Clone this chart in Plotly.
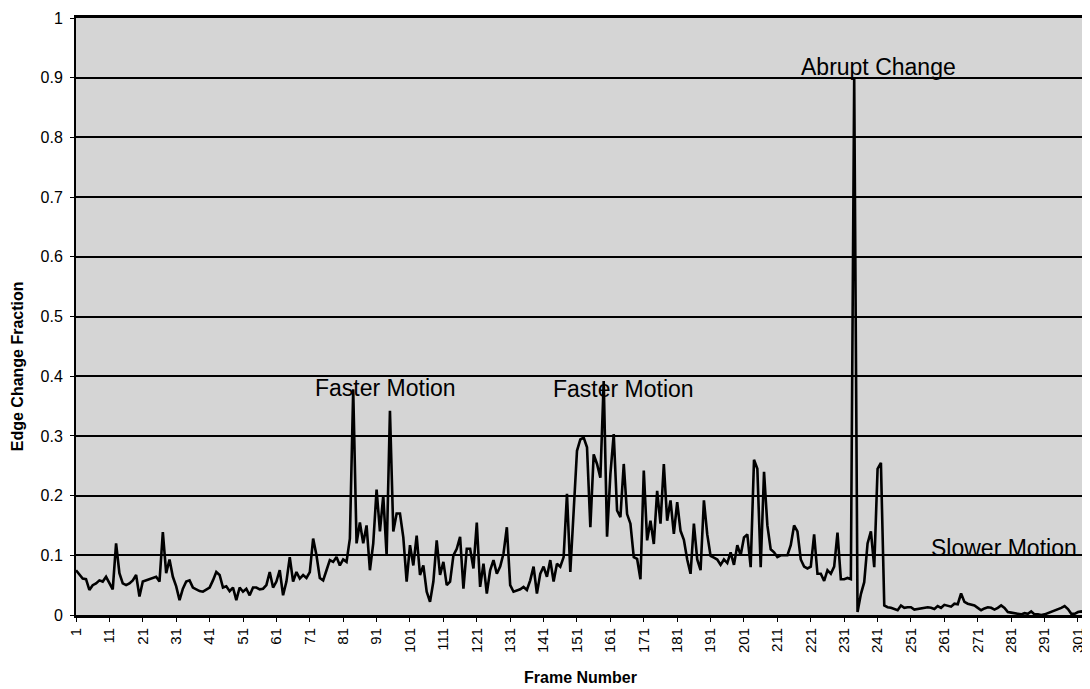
import plotly.graph_objects as go

# Edge change fraction per frame (frames 1..304)
frames_1_60 = [0.075, 0.068, 0.061, 0.06, 0.042, 0.05, 0.053, 0.058, 0.056, 0.064,
               0.053, 0.043, 0.12, 0.07, 0.053, 0.05, 0.053, 0.058, 0.067, 0.031,
               0.056, 0.058, 0.06, 0.061, 0.064, 0.056, 0.139, 0.07, 0.093, 0.064,
               0.048, 0.025, 0.044, 0.056, 0.058, 0.046, 0.043, 0.04, 0.039, 0.042,
               0.046, 0.058, 0.072, 0.067, 0.046, 0.048, 0.04, 0.046, 0.025, 0.046,
               0.039, 0.044, 0.033, 0.046, 0.046, 0.043, 0.044, 0.05, 0.072, 0.046]
frames_61_120 = [0.056, 0.075, 0.033, 0.056, 0.097, 0.056, 0.072, 0.061, 0.067, 0.062,
                 0.072, 0.128, 0.1, 0.062, 0.058, 0.075, 0.092, 0.089, 0.097, 0.083,
                 0.093, 0.089, 0.128, 0.378, 0.12, 0.155, 0.12, 0.15, 0.075, 0.12,
                 0.21, 0.14, 0.2, 0.1, 0.342, 0.14, 0.17, 0.17, 0.13, 0.056,
                 0.117, 0.083, 0.133, 0.067, 0.083, 0.039, 0.022, 0.056, 0.125, 0.067,
                 0.089, 0.05, 0.056, 0.1, 0.111, 0.131, 0.044, 0.111, 0.111, 0.078]
frames_121_180 = [0.155, 0.047, 0.086, 0.036, 0.075, 0.092, 0.069, 0.081, 0.103, 0.147,
                  0.05, 0.039, 0.041, 0.043, 0.047, 0.042, 0.058, 0.081, 0.036, 0.069,
                  0.081, 0.064, 0.092, 0.056, 0.086, 0.081, 0.097, 0.203, 0.072, 0.181,
                  0.275, 0.294, 0.297, 0.281, 0.147, 0.269, 0.253, 0.23, 0.392, 0.131,
                  0.236, 0.303, 0.175, 0.164, 0.253, 0.169, 0.153, 0.097, 0.094, 0.06,
                  0.242, 0.125, 0.158, 0.119, 0.208, 0.153, 0.253, 0.158, 0.192, 0.136]
frames_181_243 = [0.189, 0.141, 0.126, 0.093, 0.069, 0.153, 0.093, 0.075, 0.192, 0.135,
                  0.099, 0.096, 0.093, 0.084, 0.093, 0.087, 0.105, 0.084, 0.117, 0.1,
                  0.13, 0.135, 0.08, 0.26, 0.245, 0.08, 0.24, 0.15, 0.11, 0.105,
                  0.097, 0.1, 0.1, 0.1, 0.117, 0.15, 0.14, 0.093, 0.081, 0.078,
                  0.081, 0.135, 0.069, 0.069, 0.057, 0.075, 0.069, 0.081, 0.138, 0.06,
                  0.06, 0.062, 0.06, 0.9, 0.005, 0.035, 0.055, 0.12, 0.14, 0.08,
                  0.245, 0.255, 0.016]
frames_244_304 = [0.013, 0.012, 0.01, 0.008, 0.016, 0.012, 0.013, 0.013, 0.009, 0.01,
                  0.011, 0.012, 0.013, 0.012, 0.01, 0.015, 0.012, 0.017, 0.015, 0.014,
                  0.019, 0.018, 0.036, 0.022, 0.019, 0.017, 0.016, 0.012, 0.008, 0.011,
                  0.013, 0.012, 0.009, 0.012, 0.016, 0.012, 0.005, 0.004, 0.003, 0.002,
                  0.001, 0.003, 0.002, 0.006, 0.001, 0.001, 0.0, 0.001, 0.003, 0.005,
                  0.008, 0.009, 0.012, 0.015, 0.01, 0.002, 0.002, 0.005, 0.006, 0.004,
                  0.002]

edge_change = frames_1_60 + frames_61_120 + frames_121_180 + frames_181_243 + frames_244_304
frame_numbers = list(range(1, len(edge_change) + 1))

x_tick_values = list(range(1, 302, 10))
x_tick_labels = [str(v) for v in x_tick_values]
y_tick_values = [0, 0.1, 0.2, 0.3, 0.4, 0.5, 0.6, 0.7, 0.8, 0.9, 1]
y_tick_labels = ["0", "0.1", "0.2", "0.3", "0.4", "0.5", "0.6", "0.7", "0.8", "0.9", "1"]

annotation_texts = ["Faster Motion", "Faster Motion", "Abrupt Change", "Slower Motion"]
annotation_x = [93.8, 165.0, 241.4, 278.8]
annotation_y = [0.38, 0.378, 0.918, 0.112]

FONT = "Liberation Sans, Arial, sans-serif"

fig = go.Figure()
fig.add_trace(go.Scatter(
    x=frame_numbers, y=edge_change, mode="lines",
    line=dict(color="black", width=2.6), showlegend=False, hoverinfo="x+y"))

for t, ax_, ay_ in zip(annotation_texts, annotation_x, annotation_y):
    fig.add_annotation(x=ax_, y=ay_, xref="x", yref="y", text=t, showarrow=False,
                       xanchor="center", yanchor="middle",
                       font=dict(family=FONT, size=23, color="black"))

fig.add_annotation(x=-0.0583, y=0.4167, xref="paper", yref="paper", text="<b>Edge Change Fraction</b>",
                   textangle=-90, showarrow=False, xanchor="center", yanchor="middle",
                   font=dict(family=FONT, size=16, color="black"))
fig.add_annotation(x=0.499, y=-0.104, xref="paper", yref="paper", text="<b>Frame Number</b>",
                   showarrow=False, xanchor="center", yanchor="middle",
                   font=dict(family=FONT, size=16, color="black"))

fig.update_layout(
    width=1082, height=681,
    margin=dict(l=68, r=2, t=10, b=74, autoexpand=False),
    paper_bgcolor="white", plot_bgcolor="#d5d5d5",
    xaxis=dict(range=[1, len(edge_change)], tickmode="array", tickvals=x_tick_values,
               ticktext=x_tick_labels, tickangle=-90, tickfont=dict(family=FONT, size=15, color="black"),
               showgrid=False, zeroline=False, showline=True, linecolor="black", linewidth=3,
               ticks="outside", ticklen=4, tickcolor="black", mirror=True,
               ticklabeloverflow="allow"),
    yaxis=dict(range=[0, 1], tickmode="array", tickvals=y_tick_values, ticktext=y_tick_labels,
               tickfont=dict(family=FONT, size=16, color="black"), ticklabelstandoff=4,
               showgrid=True, gridcolor="black", gridwidth=1.5, zeroline=False,
               showline=True, linecolor="black", linewidth=2, ticks="outside", ticklen=4,
               tickcolor="black", mirror=True, ticklabeloverflow="allow"),
)

fig.write_html("out.html")
